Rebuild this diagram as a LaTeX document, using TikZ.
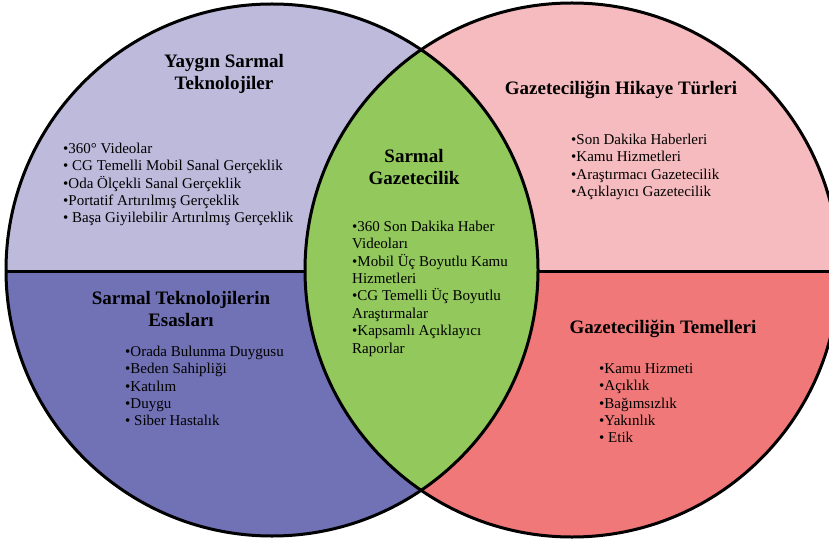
\documentclass[tikz,border=0pt]{standalone}
\usepackage{fontspec}
\setmainfont{Liberation Serif}
\definecolor{lpurple}{RGB}{190,186,220}
\definecolor{dpurple}{RGB}{113,113,181}
\definecolor{lpink}{RGB}{246,187,190}
\definecolor{dred}{RGB}{240,120,120}
\definecolor{lgreen}{RGB}{146,200,92}
\tikzset{
  outline/.style={line width=3pt, black},
  ttl/.style={font=\bfseries\fontsize{19}{21.5}\selectfont, align=center, inner sep=0pt},
  lst/.style={font=\fontsize{15}{17.4}\selectfont, align=left, inner sep=0pt, anchor=north west},
}
\begin{document}
\begin{tikzpicture}[x=1pt,y=-1pt]
\clip (0,0) rectangle (829,545);
\coordinate (L) at (272,270);
\coordinate (R) at (572,270);
% left circle halves
\begin{scope}
  \clip (L) circle [radius=266pt];
  \fill[lpurple] (0,0) rectangle (829,271);
  \fill[dpurple] (0,271) rectangle (829,545);
\end{scope}
% right circle halves
\begin{scope}
  \clip (R) circle [radius=267pt];
  \fill[lpink] (0,0) rectangle (829,271);
  \fill[dred] (0,271) rectangle (829,545);
\end{scope}
% lens
\begin{scope}
  \clip (L) circle [radius=266pt];
  \fill[lgreen] (R) circle [radius=267pt];
\end{scope}
% dividing lines
\coordinate (lA) at (6,271);
\coordinate (lB) at (305,271);
\coordinate (rA) at (538,271);
\coordinate (rB) at (835,271);
\draw[outline] (lA) -- (lB);
\draw[outline] (rA) -- (rB);
% outlines
\draw[outline] (L) circle [radius=266pt];
\draw[outline] (R) circle [radius=267pt];
% titles
\node[ttl] (t1) at (224,74) {Yaygın Sarmal\\Teknolojiler};
\node[ttl] (t2) at (414,167) {Sarmal\\Gazetecilik};
\node[ttl] (t3) at (621,90) {Gazeteciliğin Hikaye Türleri};
\node[ttl] (t4) at (181,309) {Sarmal Teknolojilerin\\Esasları};
\node[ttl] (t5) at (663,329) {Gazeteciliğin Temelleri};
% lists
\node[lst] (l1) at (63,141) {\strut•360° Videolar\\\strut• CG Temelli Mobil Sanal Gerçeklik\\\strut•Oda Ölçekli Sanal Gerçeklik\\\strut•Portatif Artırılmış Gerçeklik\\\strut• Başa Giyilebilir Artırılmış Gerçeklik};
\node[lst] (l2) at (352,219) {\strut•360 Son Dakika Haber\\\strut Videoları\\\strut•Mobil Üç Boyutlu Kamu\\\strut Hizmetleri\\\strut•CG Temelli Üç Boyutlu\\\strut Araştırmalar\\\strut•Kapsamlı Açıklayıcı\\\strut Raporlar};
\node[lst] (l3) at (571,132) {\strut•Son Dakika Haberleri\\\strut•Kamu Hizmetleri\\\strut•Araştırmacı Gazetecilik\\\strut•Açıklayıcı Gazetecilik};
\node[lst] (l4) at (125,344) {\strut•Orada Bulunma Duygusu\\\strut•Beden Sahipliği\\\strut•Katılım\\\strut•Duygu\\\strut• Siber Hastalık};
\node[lst] (l5) at (599,361) {\strut•Kamu Hizmeti\\\strut•Açıklık\\\strut•Bağımsızlık\\\strut•Yakınlık\\\strut• Etik};
\end{tikzpicture}
\end{document}
